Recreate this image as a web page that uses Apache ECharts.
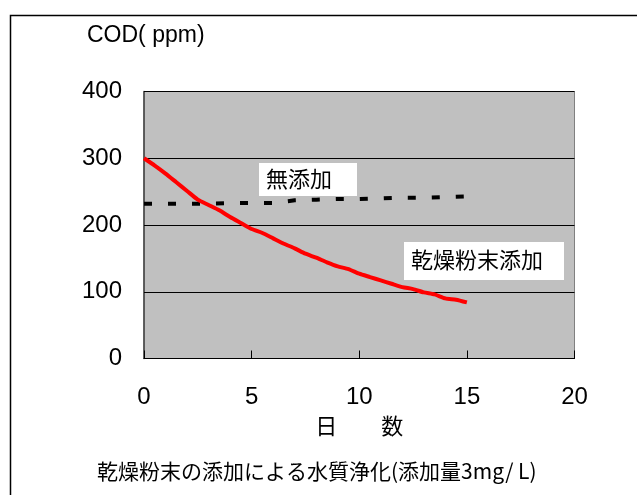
<!DOCTYPE html>
<html>
<head>
<meta charset="utf-8">
<script src="https://cdn.jsdelivr.net/npm/echarts@6/dist/echarts.min.js"></script>
<style>html,body{margin:0;padding:0;background:#fff;}#c{width:637px;height:495px;}</style>
</head>
<body>
<div id="c"></div>
<script>
// Days (x) and COD values (ppm)
const driedDays = [0,0.5,1,1.5,2,2.5,3,3.5,4,4.5,5,5.5,6,6.5,7,7.5,8,8.5,9,9.5,10,10.5,11,11.5,12,12.5,13,13.5,14,14.5,15];
const driedCOD  = [300,289,277,264,251,238,230,222,212,203,194,188,180,172,165,157,151,144,138,134,127,122,117,112,107,104,99,96,90,88,84];
const noAddDays = [0,1,2,3,4,5,6,7,8,9,10,11,12,13,14,15];
const noAddCOD  = [232,232,232,232,233,233,233,237,238,239,239,240,241,241,242,243];
const seriesNames = ['乾燥粉末添加','無添加'];
const yAxisName = 'COD( ppm)';
const xAxisName = '日　　数';
const caption = '乾燥粉末の添加による水質浄化(添加量3mg/ L)';

const FONT = "'Liberation Sans', Arial, 'Noto Sans CJK JP', sans-serif";
const CJK = "'Noto Sans CJK JP', 'Liberation Sans', sans-serif";

const chart = echarts.init(document.getElementById('c'), null, {renderer:'canvas'});
chart.setOption({
  animation: false,
  backgroundColor: '#fff',
  title: {
    text: caption, left: 97, top: 461, padding: 0,
    textStyle: {fontFamily: CJK, fontSize: 21, fontWeight: 'normal', color: '#000'}
  },
  grid: {
    left: 144, right: 62.5, top: 91.5, bottom: 136.5,
    show: true, backgroundColor: '#c0c0c0', borderColor: '#808080', borderWidth: 1
  },
  xAxis: {
    type: 'value', min: 0, max: 20, interval: 5,
    name: xAxisName, nameLocation: 'middle', nameGap: 50,
    nameTextStyle: {fontFamily: CJK, fontSize: 22, color: '#000'},
    axisLine: {show: true, onZero: false, lineStyle: {color: '#000', width: 1}},
    axisTick: {show: true, inside: true, length: 8, lineStyle: {color: '#000'}},
    axisLabel: {margin: 27, fontFamily: FONT, fontSize: 24, color: '#000'},
    splitLine: {show: false}
  },
  yAxis: {
    type: 'value', min: 0, max: 400, interval: 100,
    axisLine: {show: true, lineStyle: {color: '#404040', width: 1.5}},
    axisTick: {show: true, inside: true, length: 5, lineStyle: {color: '#000'}},
    axisLabel: {margin: 22, fontFamily: FONT, fontSize: 24, color: '#000'},
    splitLine: {show: true, lineStyle: {color: '#000', width: 1}}
  },
  series: [
    {
      name: seriesNames[0], type: 'line', showSymbol: false, smooth: 0.2,
      data: driedDays.map((d,i)=>[d, driedCOD[i]]),
      lineStyle: {color: '#ff0000', width: 4}, z: 3
    },
    {
      name: seriesNames[1], type: 'line', showSymbol: false,
      data: noAddDays.map((d,i)=>[d, noAddCOD[i]]),
      lineStyle: {color: '#000', width: 4, type: [8,16], cap: 'butt'}, z: 2
    }
  ],
  graphic: [
    {type: 'rect', left: 8, top: 13, shape: {width: 640, height: 500},
     style: {fill: 'none', stroke: '#000', lineWidth: 1.5}, silent: true, z: 100},
    {type: 'text', left: 87, top: 24, style: {text: yAxisName, font: "23px " + FONT, fill: '#000'}},
    {type: 'rect', left: 259, top: 163, shape: {width: 98, height: 33}, style: {fill: '#fff'}, z: 50},
    {type: 'text', left: 266, top: 168, style: {text: seriesNames[1], font: "22px " + CJK, fill: '#000'}, z: 51},
    {type: 'rect', left: 404, top: 242, shape: {width: 160, height: 38}, style: {fill: '#fff'}, z: 50},
    {type: 'text', left: 411, top: 249, style: {text: seriesNames[0], font: "22px " + CJK, fill: '#000'}, z: 51}
  ]
});
</script>
</body>
</html>
